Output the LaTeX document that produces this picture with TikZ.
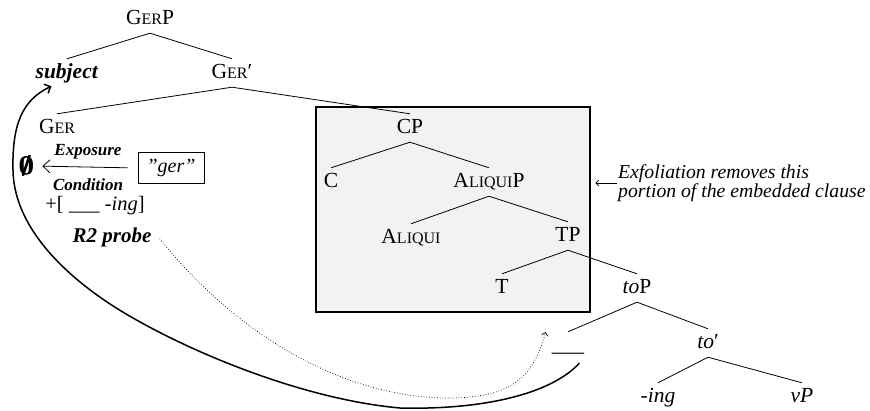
\documentclass[tikz,border=0pt]{standalone}
\usepackage{amsmath}
\usepackage{fontspec}
\setmainfont{Liberation Serif}
\usetikzlibrary{arrows.meta}
\newcommand{\fsc}[2]{#1{\fontsize{16}{18}\selectfont #2}}
\begin{document}
\begin{tikzpicture}[x=1pt,y=-1pt,
  lab/.style={font=\fontsize{21.5}{24}\selectfont, text height=15pt, text depth=4pt, inner xsep=1pt, inner ysep=4.5pt},
  edge/.style={line width=0.8pt},
  small/.style={font=\fontsize{17}{18}\selectfont\bfseries\itshape, inner sep=0pt},
  note/.style={font=\fontsize{19.7}{19}\selectfont\itshape, align=left, inner sep=1pt}
]
\useasboundingbox (0,0) rectangle (870,410);
% box
\node[draw, line width=2.8pt, fill=black!5, minimum width=274pt, minimum height=205pt, inner sep=0pt] (box) at (453,209.5) {};
% tree nodes
\node[lab] (gerp) at (150,19) {\fsc{G}{ER}P};
\node[lab] (subj) at (67,73) {\textbf{\textit{subject}}};
\node[lab] (gerbar) at (232,73) {\fsc{G}{ER}′};
\node[lab] (ger) at (57,128) {\fsc{G}{ER}};
\node[lab] (cp) at (410,128) {CP};
\node[lab] (c) at (331,182) {C};
\node[lab] (aliquip) at (489,182) {\fsc{A}{LIQUI}P};
\node[lab] (aliqui) at (411,238) {\fsc{A}{LIQUI}};
\node[lab] (tp) at (568,236) {TP};
\node[lab] (t) at (502,288) {T};
\node[lab] (top) at (637,288) {\textit{to}P};
\node[lab] (trace) at (568,346) {\_\_\_};
\node[lab] (tobar) at (708,343) {\textit{to}′};
\node[lab] (ing) at (658,397) {\textit{-ing}};
\node[lab] (vp) at (802,397) {\textit{vP}};
% tree edges
\draw[edge] (gerp.south) -- (subj.north);
\draw[edge] (gerp.south) -- (gerbar.north);
\draw[edge] (gerbar.south) -- (ger.north);
\draw[edge] (gerbar.south) -- (cp.north);
\draw[edge] (cp.south) -- (c.north);
\draw[edge] (cp.south) -- (aliquip.north);
\draw[edge] (aliquip.south) -- (aliqui.north);
\draw[edge] (aliquip.south) -- (tp.north);
\draw[edge] (tp.south) -- (t.north);
\draw[edge] (tp.south) -- (top.north);
\draw[edge] (top.south) -- (trace.north);
\draw[edge] (top.south) -- (tobar.north);
\draw[edge] (tobar.south) -- (ing.north);
\draw[edge] (tobar.south) -- (vp.north);
% left cluster
\node[font=\fontsize{23}{24}\selectfont, inner sep=0pt] (empty) at (27,166) {$\pmb{\boldsymbol{\emptyset}}$};
\node[draw, line width=0.8pt, font=\fontsize{20}{22}\selectfont\itshape, minimum width=66pt, minimum height=31pt, inner sep=2pt] (gerbox) at (171,168) {''ger''};
\node[small] (expo) at (88,152) {Exposure};
\node[small] (cond) at (88,185) {Condition};
\node[font=\fontsize{20.5}{22}\selectfont, inner sep=0pt] (env) at (95,206) {+[ \_\_\_ \textit{-ing}]};
\node[font=\fontsize{21}{22}\selectfont\bfseries\itshape, inner sep=0pt] (probe) at (112,237) {R2 probe};
\draw[line width=0.8pt, -{Straight Barb[length=7pt,width=13pt]}, shorten <=10pt, shorten >=8pt] (gerbox.west) -- (empty.east);
% note
\node[note, anchor=west] (exfo) at (617,183) {Exfoliation removes this\\portion of the embedded clause};
\draw[line width=0.7pt, -{Straight Barb[length=3pt,width=6pt]}] (exfo.west) -- ([xshift=4pt]box.east |- exfo.west);
% movement arrow
\draw[line width=1.5pt, -{Straight Barb[length=5pt,width=10pt]}] ([xshift=-6pt,yshift=-3pt]trace.south east) .. controls (550,395) and (480,410) .. (400,408) .. controls (310,400) and (203,358) .. (133,318) .. controls (80,288) and (14,235) .. (13,170) .. controls (12,125) and (22,100) .. ([xshift=17pt,yshift=1pt]subj.south west);
% probe dotted
\draw[line width=0.7pt, dotted, -{Straight Barb[length=3pt,width=6pt]}] ([xshift=8pt,yshift=8pt]probe.south east) .. controls (250,350) and (360,400) .. (455,398) .. controls (505,396) and (532,383) .. ([xshift=-5pt,yshift=14pt]trace.west);
\end{tikzpicture}
\end{document}
